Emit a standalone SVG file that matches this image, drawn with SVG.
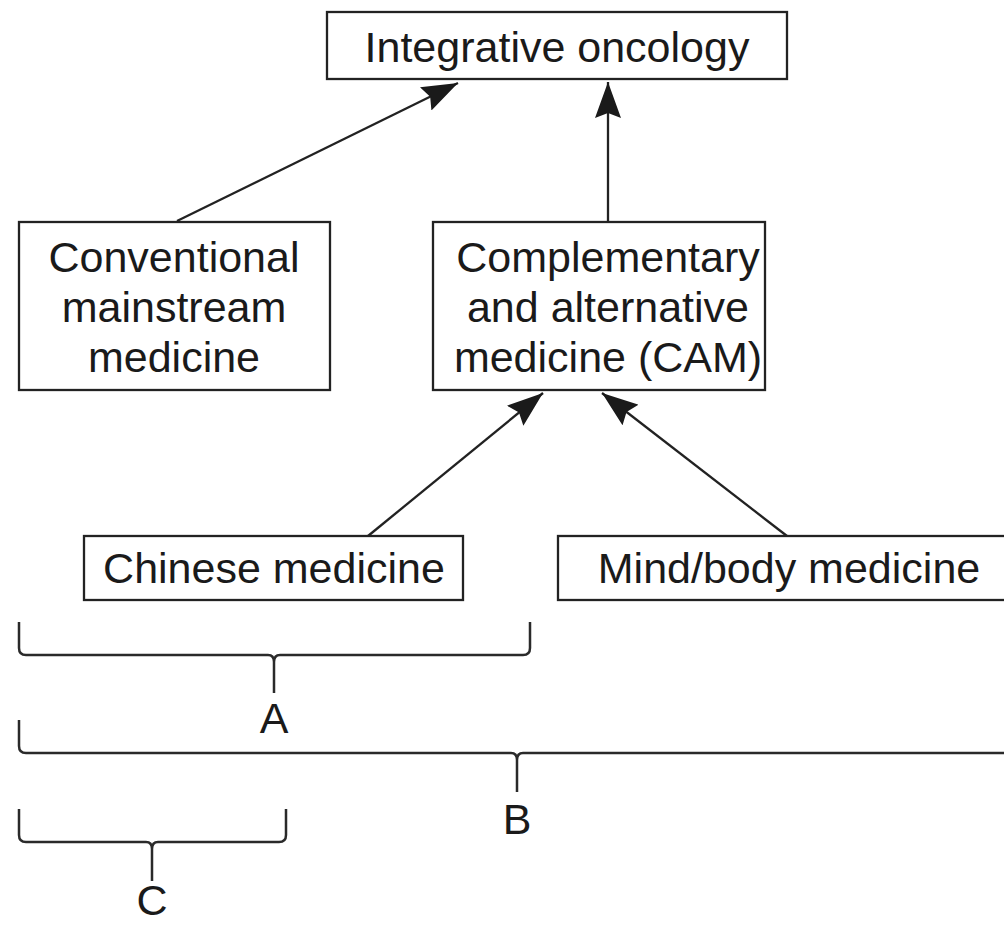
<svg xmlns="http://www.w3.org/2000/svg" width="1004" height="926" viewBox="0 0 1004 926">
  <style>
    .box { fill: #ffffff; stroke: #222222; stroke-width: 2.3; }
    .lbl { font-family: "Liberation Sans", Arial, sans-serif; font-size: 43px; fill: #1a1a1a; text-anchor: middle; }
    .conn { fill: none; stroke: #222222; stroke-width: 2.3; }
    .brace { fill: none; stroke: #2a2a2a; stroke-width: 2.5; stroke-linejoin: round; }
  </style>
  <defs>
    <marker id="arrow" viewBox="0 0 36 26" refX="36" refY="13" markerWidth="36" markerHeight="26" markerUnits="userSpaceOnUse" orient="auto">
      <path d="M0,0 L36,13 L0,26 L5,13 z" fill="#1a1a1a"/>
    </marker>
  </defs>
  <rect width="1004" height="926" fill="#ffffff"/>

  <g id="connectors">
    <line class="conn" x1="177" y1="221" x2="458" y2="83" marker-end="url(#arrow)"/>
    <line class="conn" x1="608" y1="221" x2="608" y2="82" marker-end="url(#arrow)"/>
    <line class="conn" x1="368" y1="536" x2="543" y2="393" marker-end="url(#arrow)"/>
    <line class="conn" x1="787" y1="536" x2="602" y2="393" marker-end="url(#arrow)"/>
  </g>

  <g id="node-integrative">
    <rect class="box" x="327" y="12" width="460" height="67"/>
    <text class="lbl" x="557" y="62">Integrative oncology</text>
  </g>

  <g id="node-conventional">
    <rect class="box" x="19" y="222" width="311" height="168"/>
    <text class="lbl" x="174" y="272">Conventional</text>
    <text class="lbl" x="174" y="322">mainstream</text>
    <text class="lbl" x="174" y="372">medicine</text>
  </g>

  <g id="node-cam">
    <rect class="box" x="433" y="222" width="332" height="168"/>
    <text class="lbl" x="608" y="272">Complementary</text>
    <text class="lbl" x="608" y="322">and alternative</text>
    <text class="lbl" x="608" y="372">medicine (CAM)</text>
  </g>

  <g id="node-chinese">
    <rect class="box" x="84" y="536" width="379" height="64"/>
    <text class="lbl" x="274" y="583">Chinese medicine</text>
  </g>

  <g id="node-mindbody">
    <rect class="box" x="558" y="536" width="460" height="64"/>
    <text class="lbl" x="789" y="583">Mind/body medicine</text>
  </g>

  <g id="brace-A">
    <path class="brace" d="M19,622 V648 Q19,655 26,655 H268 Q274,655 274,662 V693 M274,662 Q274,655 280,655 H523 Q530,655 530,648 V622"/>
    <text class="lbl" x="274" y="733">A</text>
  </g>

  <g id="brace-B">
    <path class="brace" d="M19,720 V746 Q19,753 26,753 H511 Q517,753 517,760 V792 M517,760 Q517,753 523,753 H1010"/>
    <text class="lbl" x="517" y="834">B</text>
  </g>

  <g id="brace-C">
    <path class="brace" d="M19,809 V835 Q19,842 26,842 H146 Q152,842 152,849 V881 M152,849 Q152,842 158,842 H279 Q286,842 286,835 V809"/>
    <text class="lbl" x="152" y="915">C</text>
  </g>
</svg>
